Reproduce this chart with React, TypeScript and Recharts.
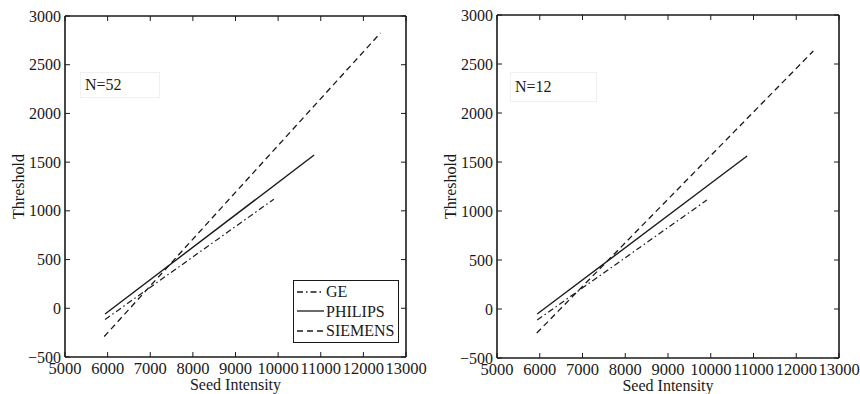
import React from 'react';
import { LineChart, Line, XAxis, YAxis, Legend, ReferenceLine } from 'recharts';

const xTicks = [5000, 6000, 7000, 8000, 9000, 10000, 11000, 12000, 13000];
const yTicks = [-500, 0, 500, 1000, 1500, 2000, 2500, 3000];

// fitted threshold lines, N=52 panel
const geN52 = [{ x: 5940, y: -115 }, { x: 9900, y: 1120 }];
const philipsN52 = [{ x: 5940, y: -59 }, { x: 10845, y: 1573 }];
const siemensN52 = [{ x: 5920, y: -290 }, { x: 12400, y: 2825 }];

// N=12 panel
const geN12 = [{ x: 5940, y: -112 }, { x: 9910, y: 1112 }];
const philipsN12 = [{ x: 5940, y: -51 }, { x: 10850, y: 1561 }];
const siemensN12 = [{ x: 5930, y: -245 }, { x: 12400, y: 2633 }];

const FONT = '"Liberation Serif", "Times New Roman", serif';
const INK = '#1a1a1a';
const GE_DASH = '6 3 1.5 3';
const SIEMENS_DASH = '6 4';

const fmt = (v: number) => (v < 0 ? '\u2212' + Math.abs(v) : String(v));

// ticks point inward on all four sides, matlab style
const BottomTick = (props: any) => {
  const { x, y, payload, plotH } = props;
  return (
    <g>
      <line x1={x} y1={y} x2={x} y2={y - 5} stroke={INK} />
      <line x1={x} y1={y - plotH} x2={x} y2={y - plotH + 5} stroke={INK} />
      <text x={x} y={y + 16.5} textAnchor="middle" fontFamily={FONT} fontSize={16.5} fill={INK}>
        {fmt(payload.value)}
      </text>
    </g>
  );
};

const LeftTick = (props: any) => {
  const { x, y, payload, plotW } = props;
  return (
    <g>
      <line x1={x} y1={y} x2={x + 5} y2={y} stroke={INK} />
      <line x1={x + plotW} y1={y} x2={x + plotW - 5} y2={y} stroke={INK} />
      <text x={x - 4} y={y} dy="0.35em" textAnchor="end" fontFamily={FONT} fontSize={16} fill={INK}>
        {fmt(payload.value)}
      </text>
    </g>
  );
};

const legendRows = [
  { name: 'GE', dash: GE_DASH },
  { name: 'PHILIPS', dash: undefined },
  { name: 'SIEMENS', dash: SIEMENS_DASH },
];

const LegendBox = () => (
  <div
    style={{
      border: `1px solid ${INK}`,
      background: '#fff',
      width: 104,
      padding: '1px 0',
      fontFamily: FONT,
      fontSize: 16,
      color: INK,
    }}
  >
    {legendRows.map(r => (
      <div key={r.name} style={{ display: 'flex', alignItems: 'center', height: 19.5 }}>
        <svg width={30} height={10} style={{ marginLeft: 2 }}>
          <line x1={1} y1={5} x2={28} y2={5} stroke={INK} strokeWidth={1.3} strokeDasharray={r.dash} />
        </svg>
        <span style={{ lineHeight: '19px' }}>{r.name}</span>
      </div>
    ))}
  </div>
);

interface PanelProps {
  left: number;
  label: string;
  labelBox: { left: number; top: number; width: number; height: number };
  margin: { top: number; right: number; left: number; bottom: number };
  ge: { x: number; y: number }[];
  philips: { x: number; y: number }[];
  siemens: { x: number; y: number }[];
  showLegend?: boolean;
}

const Panel: React.FC<PanelProps> = ({ left, label, labelBox, margin, ge, philips, siemens, showLegend }) => {
  const plotW = 430 - margin.left - margin.right - 50;
  const plotH = 394 - margin.top - margin.bottom - 34;
  return (
    <div style={{ position: 'absolute', left, top: 0, width: 430, height: 394 }}>
      <LineChart width={430} height={394} margin={margin}>
        <XAxis
          xAxisId="b"
          type="number"
          dataKey="x"
          domain={[5000, 13000]}
          ticks={xTicks}
          interval={0}
          allowDataOverflow
          height={34}
          tickSize={0}
          tickMargin={0}
          tick={<BottomTick plotH={plotH} />}
          axisLine={{ stroke: INK, strokeWidth: 1.6 }}
          label={{ value: 'Seed Intensity', position: 'insideBottom', offset: 1, fontFamily: FONT, fontSize: 16, fill: INK }}
        />
        <YAxis
          yAxisId="l"
          type="number"
          domain={[-500, 3000]}
          ticks={yTicks}
          interval={0}
          allowDataOverflow
          width={50}
          tickSize={0}
          tickMargin={0}
          tick={<LeftTick plotW={plotW} />}
          axisLine={{ stroke: INK, strokeWidth: 1.6 }}
          label={{
            value: 'Threshold',
            angle: -90,
            position: 'insideLeft',
            offset: 3,
            style: { textAnchor: 'middle' },
            fontFamily: FONT,
            fontSize: 16,
            fill: INK,
          }}
        />
        <ReferenceLine xAxisId="b" yAxisId="l" y={3000} stroke={INK} strokeWidth={1.6} />
        <ReferenceLine xAxisId="b" yAxisId="l" x={13000} stroke={INK} strokeWidth={1.6} />
        <Line
          xAxisId="b"
          yAxisId="l"
          data={ge}
          dataKey="y"
          name="GE"
          stroke={INK}
          strokeWidth={1.2}
          strokeDasharray={GE_DASH}
          dot={false}
          isAnimationActive={false}
        />
        <Line
          xAxisId="b"
          yAxisId="l"
          data={philips}
          dataKey="y"
          name="PHILIPS"
          stroke={INK}
          strokeWidth={1.4}
          dot={false}
          isAnimationActive={false}
        />
        <Line
          xAxisId="b"
          yAxisId="l"
          data={siemens}
          dataKey="y"
          name="SIEMENS"
          stroke={INK}
          strokeWidth={1.3}
          strokeDasharray={SIEMENS_DASH}
          dot={false}
          isAnimationActive={false}
        />
        {showLegend && (
          <Legend
            layout="horizontal"
            verticalAlign="middle"
            align="center"
            wrapperStyle={{ left: 293, top: 280, width: 'auto' }}
            content={() => <LegendBox />}
          />
        )}
      </LineChart>
      <div
        style={{
          position: 'absolute',
          ...labelBox,
          border: '1px solid #f0f0f0',
          boxSizing: 'border-box',
          fontFamily: FONT,
          fontSize: 16,
          color: INK,
          paddingLeft: 4,
          display: 'flex',
          alignItems: 'center',
        }}
      >
        {label}
      </div>
    </div>
  );
};

export default function App() {
  return (
    <div style={{ position: 'absolute', left: 0, top: 0, width: 860, height: 394, background: '#fff' }}>
      <Panel
        left={0}
        label="N=52"
        labelBox={{ left: 80, top: 72, width: 80, height: 26 }}
        margin={{ top: 16, right: 24, left: 15, bottom: 3 }}
        ge={geN52}
        philips={philipsN52}
        siemens={siemensN52}
        showLegend
      />
      <Panel
        left={430}
        label="N=12"
        labelBox={{ left: 80, top: 72, width: 87, height: 30 }}
        margin={{ top: 15, right: 21, left: 17, bottom: 2 }}
        ge={geN12}
        philips={philipsN12}
        siemens={siemensN12}
      />
    </div>
  );
}
